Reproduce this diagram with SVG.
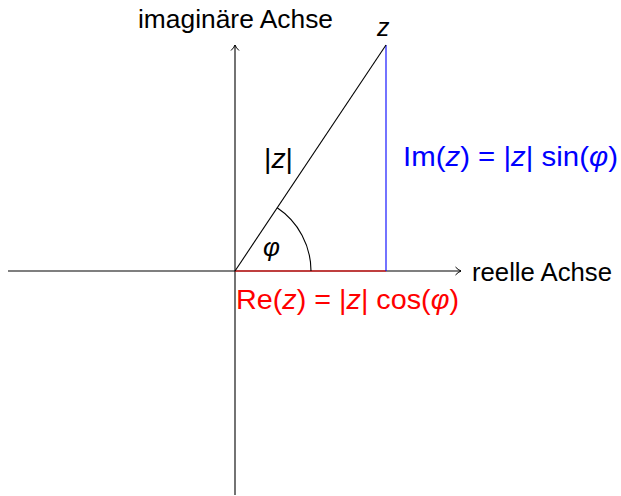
<svg xmlns="http://www.w3.org/2000/svg" width="621" height="496" viewBox="0 0 621 496">
<style>
.t{font-family:"Liberation Sans","DejaVu Sans",sans-serif;fill:#000}
.m{font-style:italic}
.ax{stroke:#000;stroke-width:1.1;fill:none}
</style>
<defs>
<marker id="ah" markerWidth="12" markerHeight="12" refX="8" refY="6" orient="auto" markerUnits="userSpaceOnUse">
<path d="M2.5,2 Q5,4.8 8,6 Q5,7.2 2.5,10" fill="none" stroke="#000" stroke-width="1"/>
</marker>
</defs>
<rect width="621" height="496" fill="#fff"/>
<g id="connectors">
<line id="x-axis" class="ax" x1="8" y1="271" x2="461" y2="271" marker-end="url(#ah)"/>
<line id="y-axis" class="ax" x1="235" y1="495" x2="235" y2="45" marker-end="url(#ah)"/>
<line id="re-seg" x1="235" y1="271" x2="386" y2="271" stroke="#f00" stroke-width="1.1"/>
<line id="im-seg" x1="386" y1="271" x2="386" y2="45" stroke="#00f" stroke-width="1.1"/>
<line id="radius" class="ax" x1="235" y1="271" x2="386" y2="45"/>
<path id="angle-arc" class="ax" d="M311,271 A76,76 0 0 0 277.2,207.8"/>
</g>
<g id="label-imag-axis"><text class="t" x="138" y="28" font-size="25" textLength="195" lengthAdjust="spacingAndGlyphs">imaginäre Achse</text></g>
<g id="label-real-axis"><text class="t" x="472" y="281" font-size="25" textLength="140" lengthAdjust="spacingAndGlyphs">reelle Achse</text></g>
<g id="label-z"><text class="t m" x="377" y="36" font-size="25">z</text></g>
<g id="label-abs"><text class="t" x="264" y="168" font-size="28" textLength="29" lengthAdjust="spacingAndGlyphs">|<tspan class="m">z</tspan>|</text></g>
<g id="label-phi"><text class="t m" x="263" y="256" font-size="26">φ</text></g>
<g id="label-im"><text class="t" x="403" y="166" font-size="28" style="fill:#00f" textLength="215" lengthAdjust="spacingAndGlyphs">Im(<tspan class="m">z</tspan>) = |<tspan class="m">z</tspan>| sin(<tspan class="m">φ</tspan>)</text></g>
<g id="label-re"><text class="t" x="236" y="309" font-size="28" style="fill:#f00" textLength="223" lengthAdjust="spacingAndGlyphs">Re(<tspan class="m">z</tspan>) = |<tspan class="m">z</tspan>| cos(<tspan class="m">φ</tspan>)</text></g>
</svg>
